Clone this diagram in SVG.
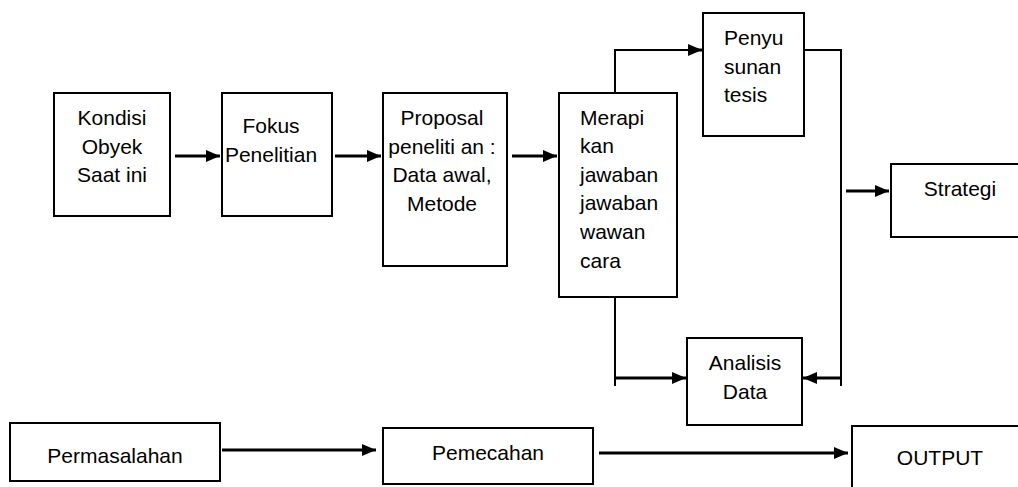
<svg xmlns="http://www.w3.org/2000/svg" width="1018" height="487" viewBox="0 0 1018 487">
<style>
.box{fill:#fff;stroke:#000;stroke-width:2}
.t{font-family:"Liberation Sans",Arial,sans-serif;font-size:21px;fill:#000}
.c{text-anchor:middle}
.arr{fill:none;stroke:#000;stroke-width:3;marker-end:url(#ah)}
.ln{fill:none;stroke:#000;stroke-width:2}
</style>
<defs>
<marker id="ah" markerUnits="userSpaceOnUse" markerWidth="14" markerHeight="12" refX="14" refY="6" orient="auto">
<path d="M0,0 L14,6 L0,12 z" fill="#000"/>
</marker>
</defs>
<rect width="1018" height="487" fill="#fff"/>
<g id="connectors">
<line class="arr" x1="175" y1="156" x2="220" y2="156"/>
<line class="arr" x1="335" y1="156" x2="381" y2="156"/>
<line class="arr" x1="512" y1="156" x2="557" y2="156"/>
<polyline class="ln" points="615,93 615,50 690,50"/>
<line class="arr" x1="688" y1="50" x2="702" y2="50"/>
<polyline class="ln" points="804,50 841,50 841,386"/>
<line class="arr" x1="846" y1="191" x2="889" y2="191"/>
<line class="ln" x1="615" y1="297" x2="615" y2="386"/>
<line class="arr" x1="615" y1="378" x2="686" y2="378"/>
<line class="arr" x1="841" y1="378" x2="803" y2="378"/>
<line class="arr" x1="222" y1="450" x2="376" y2="450"/>
<line class="arr" x1="599" y1="453" x2="848" y2="453"/>
</g>
<g id="kondisi">
<rect class="box" x="54" y="93" width="116" height="123"/>
<text class="t c" x="112" y="125">Kondisi</text>
<text class="t c" x="112" y="153.5">Obyek</text>
<text class="t c" x="112" y="182">Saat ini</text>
</g>
<g id="fokus">
<rect class="box" x="222" y="93" width="110" height="123"/>
<text class="t c" x="271" y="133">Fokus</text>
<text class="t c" x="271" y="161.5">Penelitian</text>
</g>
<g id="proposal">
<rect class="box" x="383" y="93" width="124" height="173"/>
<text class="t c" x="442" y="124.5">Proposal</text>
<text class="t c" x="442" y="153.5">peneliti an :</text>
<text class="t c" x="442" y="182">Data awal,</text>
<text class="t c" x="442" y="210.5">Metode</text>
</g>
<g id="merapi">
<rect class="box" x="559" y="93" width="118" height="204"/>
<text class="t" x="580" y="124.5">Merapi</text>
<text class="t" x="580" y="153">kan</text>
<text class="t" x="580" y="181.5">jawaban</text>
<text class="t" x="580" y="210">jawaban</text>
<text class="t" x="580" y="239">wawan</text>
<text class="t" x="580" y="267.5">cara</text>
</g>
<g id="penyusunan">
<rect class="box" x="703" y="13" width="101" height="123"/>
<text class="t" x="724" y="44.5">Penyu</text>
<text class="t" x="724" y="73.5">sunan</text>
<text class="t" x="724" y="102">tesis</text>
</g>
<g id="strategi">
<rect class="box" x="891" y="164" width="140" height="73"/>
<text class="t c" x="960" y="196">Strategi</text>
</g>
<g id="analisis">
<rect class="box" x="687" y="338" width="115" height="87"/>
<text class="t c" x="745" y="370">Analisis</text>
<text class="t c" x="745" y="399">Data</text>
</g>
<g id="permasalahan">
<rect class="box" x="10" y="423" width="210" height="58"/>
<text class="t c" x="115" y="463">Permasalahan</text>
</g>
<g id="pemecahan">
<rect class="box" x="383" y="428" width="210" height="56"/>
<text class="t c" x="488" y="460">Pemecahan</text>
</g>
<g id="output">
<rect class="box" x="852" y="426" width="180" height="80"/>
<text class="t c" x="940" y="465">OUTPUT</text>
</g>
</svg>
